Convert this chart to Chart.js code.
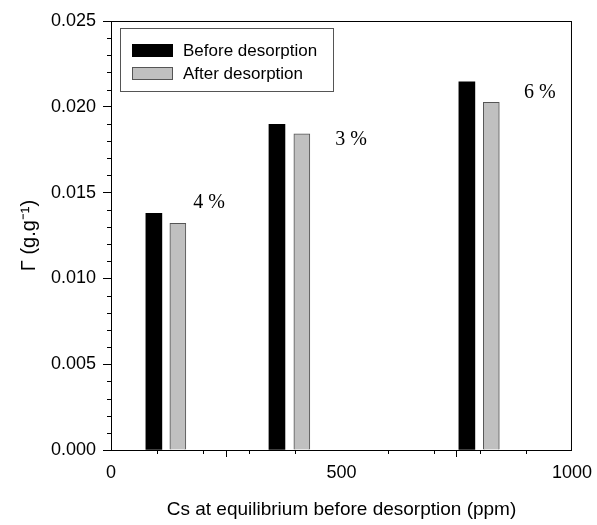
<!DOCTYPE html>
<html>
<head>
<meta charset="utf-8">
<script src="https://cdn.jsdelivr.net/npm/chart.js@4"></script>
<style>
  html, body { margin: 0; padding: 0; background: #fff; }
  #wrap { width: 597px; height: 525px; }
</style>
</head>
<body>
<div id="wrap"><canvas id="chart" width="597" height="525"></canvas></div>
<script>
// data
const beforeX = [93, 360, 772];
const beforeY = [0.01379, 0.01898, 0.02146];
const afterX = [145, 414, 825];
const afterY = [0.01321, 0.01843, 0.02026];
const seriesNames = ['Before desorption', 'After desorption'];
// percent loss labels next to each pair
const pctText = ['4 %', '3 %', '6 %'];
const pctX = [213, 521, 930];
const pctY = [0.0144, 0.01807, 0.0208];

const xTitle = 'Cs at equilibrium before desorption (ppm)';
const yTitle = 'Γ (g.g⁻¹)';

Chart.defaults.font.family = '"Liberation Sans", Arial, sans-serif';
Chart.defaults.color = '#000';

const toPoints = (xs, ys) => xs.map((x, i) => ({ x: x, y: ys[i] }));

// frame, minor ticks, legend box and % labels
const extras = {
  id: 'extras',
  afterDraw(chart) {
    const c = chart.ctx;
    const a = chart.chartArea;
    const xs = chart.scales.x, ys = chart.scales.y;
    c.save();
    c.strokeStyle = '#000';
    c.lineWidth = 1;
    c.strokeRect(a.left + 0.5, a.top + 0.5, a.right - a.left - 1, a.bottom - a.top);

    // minor ticks
    c.beginPath();
    for (let v = 100; v < 1000; v += 100) {
      if (v % 500 == 0) continue;
      const px = Math.round(xs.getPixelForValue(v)) + 0.5;
      c.moveTo(px, a.bottom);
      c.lineTo(px, a.bottom + 4);
    }
    for (let k = 1; k < 25; k++) {
      if (k % 5 == 0) continue;
      const py = Math.round(ys.getPixelForValue(k * 0.001)) + 0.5;
      c.moveTo(a.left, py);
      c.lineTo(a.left - 4, py);
    }
    c.stroke();

    // legend
    c.fillStyle = '#fff';
    c.fillRect(120.5, 28.5, 213, 63);
    c.strokeStyle = '#555';
    c.strokeRect(120.5, 28.5, 213, 63);
    c.font = '17px "Liberation Sans", Arial, sans-serif';
    c.textBaseline = 'middle';
    chart.data.datasets.forEach((ds, i) => {
      const y = 44 + i * 23;
      c.fillStyle = ds.backgroundColor;
      c.fillRect(132, y, 41, 13);
      if (ds.borderWidth) {
        c.strokeStyle = ds.borderColor;
        c.strokeRect(132.5, y + 0.5, 40, 12);
      }
      c.fillStyle = '#000';
      c.fillText(ds.label, 183, y + 7);
    });

    // percent labels
    c.font = '20px "Liberation Serif", "Times New Roman", serif';
    c.textAlign = 'center';
    pctText.forEach((t, i) => {
      c.fillText(t, xs.getPixelForValue(pctX[i]), ys.getPixelForValue(pctY[i]));
    });
    c.restore();
  }
};

new Chart(document.getElementById('chart'), {
  type: 'bar',
  data: {
    datasets: [
      {
        label: seriesNames[0],
        data: toPoints(beforeX, beforeY),
        backgroundColor: '#000',
        borderWidth: 0
      },
      {
        label: seriesNames[1],
        data: toPoints(afterX, afterY),
        backgroundColor: '#c0c0c0',
        borderColor: '#555',
        borderWidth: 1
      }
    ]
  },
  options: {
    responsive: false,
    animation: false,
    grouped: false,
    barThickness: 16,
    layout: { padding: { top: 21, right: 22, left: 0, bottom: 0 } },
    plugins: { legend: { display: false }, tooltip: { enabled: false } },
    scales: {
      x: {
        type: 'linear',
        min: 0, max: 1000,
        offset: false,
        afterFit: s => { s.height = 75; },
        ticks: { stepSize: 500, font: { size: 18 }, padding: 5, maxRotation: 0, callback: v => String(v) },
        grid: { drawOnChartArea: false, tickLength: 7, tickColor: '#000' },
        border: { color: '#000' },
        title: { display: true, text: xTitle, font: { size: 19 }, padding: { top: 6, bottom: 4 } }
      },
      y: {
        min: 0, max: 0.025,
        afterFit: s => { s.width = 111; },
        ticks: { stepSize: 0.005, font: { size: 18 }, padding: 7, callback: v => v.toFixed(3) },
        grid: { drawOnChartArea: false, tickLength: 8, tickColor: '#000' },
        border: { color: '#000' },
        title: { display: true, text: yTitle, font: { size: 20 }, padding: { top: 17, bottom: 4 } }
      }
    }
  },
  plugins: [extras]
});
</script>
</body>
</html>
